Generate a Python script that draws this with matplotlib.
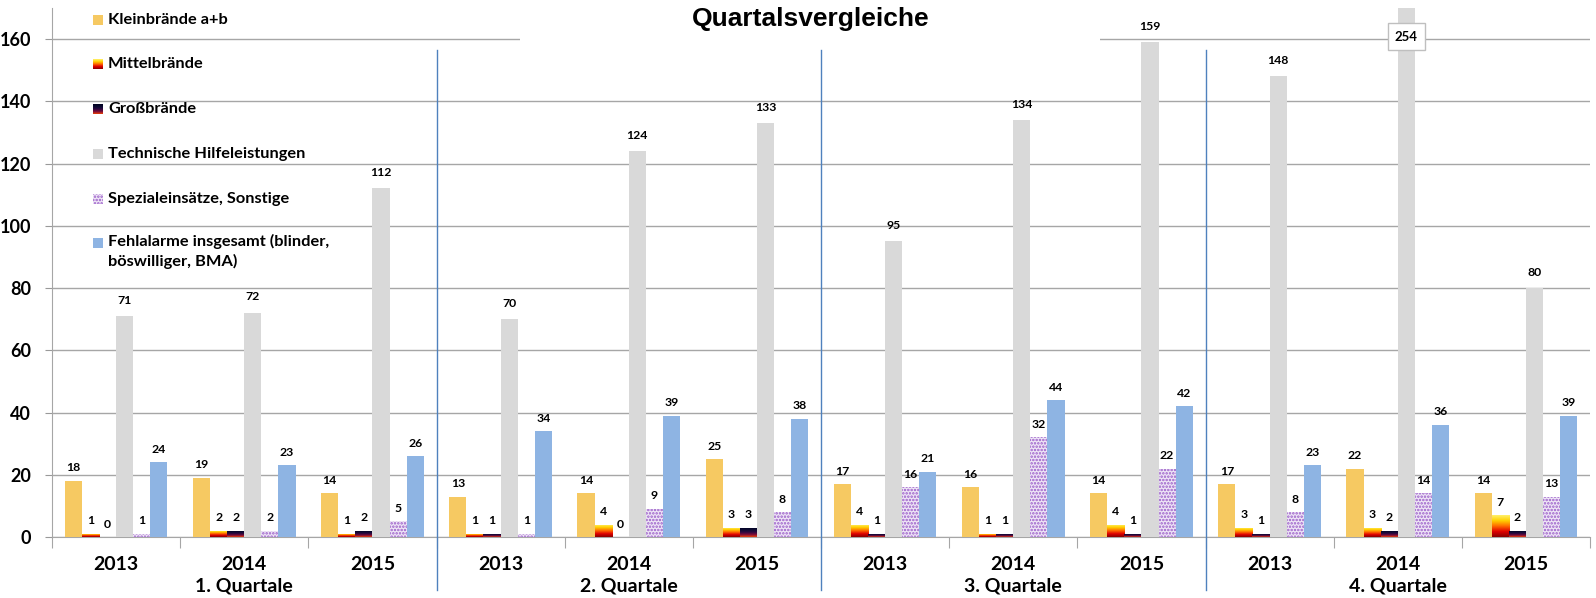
import numpy as np
import matplotlib
matplotlib.use("Agg")
import matplotlib.pyplot as plt
from matplotlib.patches import Rectangle
from matplotlib.colors import LinearSegmentedColormap
import matplotlib.transforms as mtransforms

plt.rcParams['font.family'] = ['Lato', 'DejaVu Sans']
plt.rcParams['hatch.linewidth'] = 1.2

# Daten
JAHRE = ["2013", "2014", "2015"]
QUARTALE = ["1. Quartale", "2. Quartale", "3. Quartale", "4. Quartale"]
SERIEN = ["Kleinbrände a+b", "Mittelbrände", "Großbrände",
          "Technische Hilfeleistungen", "Spezialeinsätze, Sonstige",
          "Fehlalarme insgesamt (blinder,\nböswilliger, BMA)"]
klein = [18, 19, 14, 13, 14, 25, 17, 16, 14, 17, 22, 14]
mittel = [1, 2, 1, 1, 4, 3, 4, 1, 4, 3, 3, 7]
gross = [0, 2, 2, 1, 0, 3, 1, 1, 1, 1, 2, 2]
technisch = [71, 72, 112, 70, 124, 133, 95, 134, 159, 148, 254, 80]
spezial = [1, 2, 5, 1, 9, 8, 16, 32, 22, 8, 14, 13]
fehlalarm = [24, 23, 26, 34, 39, 38, 21, 44, 42, 23, 36, 39]
WERTE = [klein, mittel, gross, technisch, spezial, fehlalarm]

YMAX = 170
GELB = '#F6C962'
GRAU = '#D9D9D9'
BLAU = '#8EB4E3'
LILA = '#9A5CC8'
LILA_BG = '#EEE5F6'

cmap_mittel = LinearSegmentedColormap.from_list(
    "mittel", ['#8B0000', '#E00000', '#FF6A00', '#FFD000', '#FFF06A'])
cmap_gross = LinearSegmentedColormap.from_list(
    "gross", ['#E8400A', '#7A0A3A', '#2A0840', '#0A0A30', '#000020'])

fig = plt.figure(figsize=(15.96, 5.98), dpi=100)
ax = fig.add_axes([52 / 1596, 1 - 537 / 598, 1538 / 1596, 529 / 598])

n = len(klein)
x = np.arange(n)
w = 0.8 / 6
fett = dict(fontweight='bold', color='black')

for i, vals in enumerate(WERTE):
    pos = x - 0.4 + w * (i + 0.5)
    if i in (1, 2):
        bars = ax.bar(pos, vals, width=w, color='none', linewidth=0, zorder=3)
        cm = cmap_mittel if i == 1 else cmap_gross
        grad = np.linspace(0, 1, 64).reshape(-1, 1)
        for b in bars:
            if b.get_height() <= 0:
                continue
            x0, y0 = b.get_x(), b.get_y()
            im = ax.imshow(grad, cmap=cm, aspect='auto', origin='lower',
                           extent=(x0, x0 + b.get_width(), y0, y0 + b.get_height()),
                           zorder=3, interpolation='bilinear')
            im.set_clip_path(b)
    elif i == 4:
        bars = ax.bar(pos, vals, width=w, facecolor=LILA_BG, edgecolor=LILA,
                      hatch='.....', linewidth=0, zorder=3)
    else:
        farbe = [GELB, None, None, GRAU, None, BLAU][i]
        bars = ax.bar(pos, vals, width=w, color=farbe, linewidth=0, zorder=3)

    for p, v in zip(pos, vals):
        if v > YMAX:
            ax.text(p, 160.8, str(v), ha='center', va='center', fontsize=9.5, zorder=6,
                    bbox=dict(boxstyle='square,pad=0.55', fc='white', ec='#BFBFBF', lw=1), **fett)
            continue
        off = 16 if i == 3 else 13
        ax.annotate(str(v), (p, v), xytext=(0, off), textcoords='offset pixels',
                    ha='center', va='center', fontsize=8.8, zorder=6, **fett)

ax.set_xlim(-0.5, n - 0.5)
ax.set_ylim(0, YMAX)
ax.set_yticks(range(0, 161, 20))
ax.set_yticklabels([str(t) for t in range(0, 161, 20)], fontsize=13, fontweight='bold')
ax.tick_params(axis='y', length=5, color='#999999', pad=10)
ax.yaxis.grid(True, color='#A6A6A6', linewidth=1)
ax.set_axisbelow(True)
for s in ['top', 'right']:
    ax.spines[s].set_visible(False)
ax.spines['left'].set_color('#A6A6A6')
ax.spines['bottom'].set_color('#A6A6A6')

# x-Achse: Trennstriche zwischen Gruppen
ax.set_xticks(np.arange(-0.5, n, 1))
ax.set_xticklabels([])
ax.tick_params(axis='x', length=8, color='#A6A6A6')

trans = mtransforms.blended_transform_factory(ax.transData, ax.transAxes)
for k in range(n):
    ax.text(k, -0.052, JAHRE[k % 3], transform=trans, ha='center', va='center',
            fontsize=14, **fett)
for q, name in enumerate(QUARTALE):
    ax.text(3 * q + 1, -0.093, name, transform=trans, ha='center', va='center',
            fontsize=14, **fett)
for q in range(1, 4):
    ax.plot([3 * q - 0.5, 3 * q - 0.5], [-0.10, 0.92], transform=trans,
            color='#4F81BD', linewidth=1, clip_on=False, zorder=5)

# Titel mit weissem Hintergrund
fig.patches.append(Rectangle((520 / 1596, 1 - 45 / 598), 580 / 1596, 45 / 598,
                             transform=fig.transFigure, facecolor='white',
                             edgecolor='none', zorder=10))
fig.text(811 / 1596, 1 - 19 / 598, "Quartalsvergleiche", ha='center', va='center',
         fontsize=19, fontweight='bold', family=['Liberation Sans', 'DejaVu Sans'], zorder=11)

# Legende
leg_y = [20, 64, 109, 154, 199, 243]
for i, (name, yy) in enumerate(zip(SERIEN, leg_y)):
    yf = 1 - yy / 598
    if i in (1, 2):
        cm = cmap_mittel if i == 1 else cmap_gross
        iax = fig.add_axes([93 / 1596, yf - 5 / 598, 10 / 1596, 10 / 598], zorder=12)
        iax.imshow(np.linspace(0, 1, 32).reshape(-1, 1), cmap=cm, aspect='auto', origin='lower')
        iax.set_axis_off()
    elif i == 4:
        fig.patches.append(Rectangle((93 / 1596, yf - 5 / 598), 10 / 1596, 10 / 598,
                                     transform=fig.transFigure, facecolor=LILA_BG,
                                     edgecolor=LILA, hatch='.....', linewidth=0, zorder=12))
    else:
        farbe = [GELB, None, None, GRAU, None, BLAU][i]
        fig.patches.append(Rectangle((93 / 1596, yf - 5 / 598), 10 / 1596, 10 / 598,
                                     transform=fig.transFigure, facecolor=farbe,
                                     edgecolor='none', zorder=12))
    if '\n' in name:
        fig.text(108 / 1596, yf + 9 / 598, name, ha='left', va='top',
                 fontsize=11.8, linespacing=1.4, zorder=12, **fett)
    else:
        fig.text(108 / 1596, yf, name, ha='left', va='center',
                 fontsize=11.8, zorder=12, **fett)

fig.savefig("out.png", dpi=100)
